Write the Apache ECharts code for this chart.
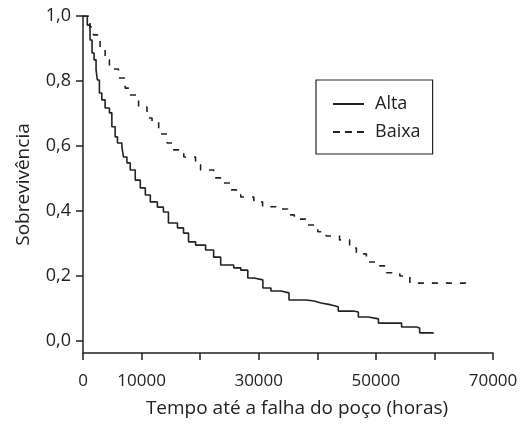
<!DOCTYPE html>
<html>
<head>
<meta charset="utf-8">
<script src="https://cdn.jsdelivr.net/npm/echarts@6/dist/echarts.min.js"></script>
<style>
  html, body { margin: 0; padding: 0; background: #fff; }
  #chart { width: 521px; height: 425px; }
</style>
</head>
<body>
<div id="chart"></div>
<script>
// curvas de sobrevivência (Kaplan-Meier)
const altaTempo = [0, 740, 1200, 1544, 1887, 2230, 2450, 2800, 3210, 3775, 4510, 4925, 5490, 5885, 6640,
  6915, 7500, 8065, 8920, 9780, 10640, 11495, 12700, 13725, 14585, 16130, 17160, 18015, 19215, 20930,
  22305, 23505, 25735, 26935, 28140, 29170, 30710, 32085, 33800, 35170, 38090, 39460, 40660, 42380,
  43580, 46150, 47010, 48725, 50440, 51470, 54390, 56960, 57475, 59880];
const altaSobrev = [1.0, 0.972, 0.926, 0.886, 0.865, 0.834, 0.803, 0.763, 0.742, 0.717, 0.702, 0.659, 0.628,
  0.609, 0.597, 0.566, 0.548, 0.526, 0.495, 0.471, 0.449, 0.428, 0.412, 0.397, 0.363, 0.348, 0.332, 0.305,
  0.295, 0.280, 0.258, 0.234, 0.225, 0.218, 0.194, 0.188, 0.163, 0.154, 0.148, 0.126, 0.123, 0.117, 0.111,
  0.105, 0.092, 0.089, 0.074, 0.068, 0.055, 0.055, 0.043, 0.040, 0.025, 0.025];

const baixaTempo = [0, 343, 1200, 1767, 2917, 3775, 4510, 6055, 7205, 8065, 9490, 10930, 11785, 12920, 14360,
  15220, 17210, 19215, 20075, 22305, 24020, 25220, 26935, 29170, 30660, 32945, 34950, 36080, 38090, 40095,
  41520, 43800, 45520, 46670, 48385, 50665, 51815, 54095, 55810, 65540];
const baixaSobrev = [1.0, 1.0, 0.966, 0.942, 0.902, 0.865, 0.837, 0.809, 0.778, 0.757, 0.720, 0.686, 0.674,
  0.637, 0.609, 0.588, 0.566, 0.542, 0.526, 0.502, 0.486, 0.465, 0.443, 0.428, 0.413, 0.406, 0.388, 0.375,
  0.357, 0.336, 0.323, 0.311, 0.286, 0.268, 0.243, 0.231, 0.210, 0.200, 0.178, 0.174];

const yTicks = [0, 0.2, 0.4, 0.6, 0.8, 1.0];
const xLabels = [0, 10000, 30000, 50000, 70000];

const ink = '#222';
const fonte = 'Open Sans';

const chart = echarts.init(document.getElementById('chart'));

function pares(xs, ys) {
  return xs.map((x, i) => [x, ys[i]]);
}

chart.setOption({
  animation: false,
  textStyle: { fontFamily: fonte, color: ink },
  grid: { left: 83, right: 28, top: 16, bottom: 72 },
  legend: {
    orient: 'vertical',
    left: 316,
    top: 80,
    padding: [15, 12, 13, 16],
    itemGap: 10,
    itemWidth: 31,
    itemHeight: 14,
    borderColor: ink,
    borderWidth: 1.2,
    itemStyle: { opacity: 0 },
    textStyle: { fontFamily: fonte, fontSize: 18, color: ink, padding: [0, 0, 0, 6] },
    data: [
      { name: 'Alta' },
      { name: 'Baixa', lineStyle: { type: [7, 5] } }
    ]
  },
  xAxis: {
    type: 'value',
    min: 0,
    max: 70000,
    interval: 10000,
    name: 'Tempo até a falha do poço (horas)',
    nameLocation: 'middle',
    nameGap: 46,
    nameTextStyle: { fontSize: 19, color: ink, padding: [0, 0, 0, 18] },
    axisLine: { onZero: false, lineStyle: { color: ink, width: 1.5 } },
    axisTick: { length: 7, lineStyle: { color: ink, width: 1.5 } },
    axisLabel: {
      customValues: xLabels,
      fontSize: 17,
      color: ink,
      margin: 20,
      formatter: v => String(v)
    },
    splitLine: { show: false }
  },
  yAxis: {
    type: 'value',
    min: -0.037,
    max: 1.0,
    name: 'Sobrevivência',
    nameLocation: 'middle',
    nameGap: 50,
    nameTextStyle: { fontSize: 19, color: ink },
    axisLine: { lineStyle: { color: ink, width: 1.5 } },
    axisTick: { customValues: yTicks, length: 7, lineStyle: { color: ink, width: 1.5 } },
    axisLabel: {
      customValues: yTicks,
      fontSize: 18,
      color: ink,
      margin: 12,
      formatter: v => v.toFixed(1).replace('.', ',')
    },
    splitLine: { show: false }
  },
  series: [
    {
      name: 'Alta',
      type: 'line',
      step: 'end',
      symbol: 'none',
      data: pares(altaTempo, altaSobrev),
      lineStyle: { color: ink, width: 1.6 },
      itemStyle: { color: ink }
    },
    {
      name: 'Baixa',
      type: 'line',
      step: 'end',
      symbol: 'none',
      data: pares(baixaTempo, baixaSobrev),
      lineStyle: { color: ink, width: 1.6, type: [6, 8] },
      itemStyle: { color: ink }
    }
  ]
});
</script>
</body>
</html>
